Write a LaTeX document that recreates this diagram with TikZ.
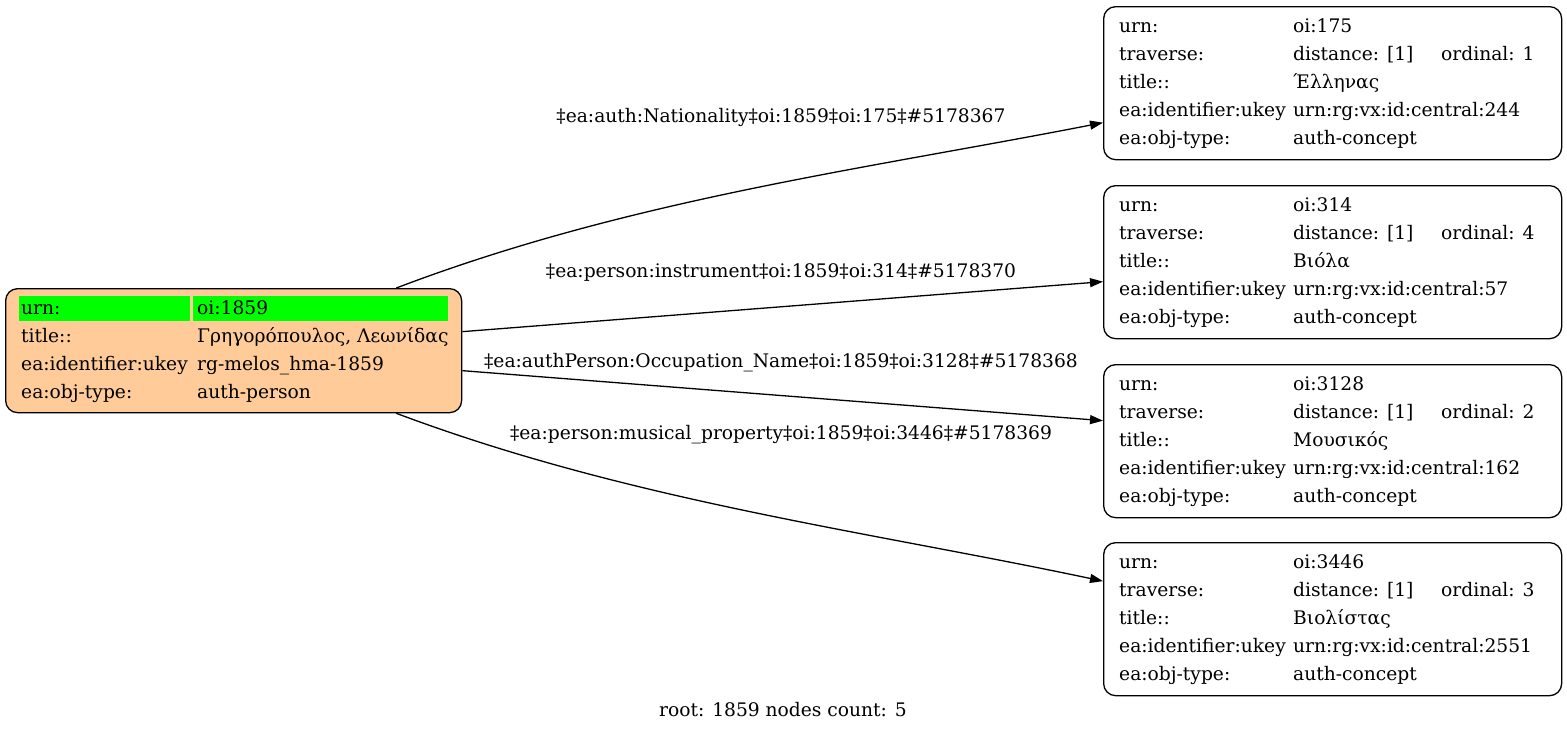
\documentclass[tikz,border=0pt]{standalone}
\usepackage{fontspec}
\setmainfont{DejaVu Serif}
\usetikzlibrary{arrows.meta,calc}
\definecolor{peach}{RGB}{255,204,153}
\definecolor{cellgreen}{RGB}{0,255,0}
\begin{document}
\begin{tikzpicture}[x=1pt,y=-1pt,
  box/.style={draw=black, line width=1.3pt, rounded corners=12pt, inner sep=0pt, anchor=north west, minimum width=458pt, minimum height=153pt},
  cell/.style={fill=cellgreen, inner sep=0pt, anchor=north west, minimum height=25pt},
  txt/.style={anchor=base west, inner sep=0pt, font=\fontsize{18.67}{22}\selectfont},
  lbl/.style={anchor=base, inner sep=0pt, font=\fontsize{18.67}{22}\selectfont},
  link/.style={line width=1.3pt, -{Triangle[length=13pt,width=9pt]}}]
\useasboundingbox (0,0) rectangle (1567,732);
% root node
\node[box, fill=peach, minimum width=456pt, minimum height=124pt] (L) at (5,288) {};
\node[cell, minimum width=171pt] (Lc1) at (19,296) {};
\node[cell, minimum width=255pt] (Lc2) at (193,296) {};
\node[txt] (L11) at (21,314) {urn:};
\node[txt] (L12) at (197,314) {oi:1859};
\node[txt] (L21) at (21,342) {title::};
\node[txt] (L22) at (197,342) {Γρηγορόπουλος, Λεωνίδας};
\node[txt] (L31) at (21,370) {ea:identifier:ukey};
\node[txt] (L32) at (197,370) {rg-melos\_hma-1859};
\node[txt] (L41) at (21,398) {ea:obj-type:};
\node[txt] (L42) at (197,398) {auth-person};
% right nodes
\foreach \n/\top/\urn/\ord/\ttl/\uk in {1/6/175/1/Έλληνας/244, 2/185/314/4/Βιόλα/57, 3/364/3128/2/Μουσικός/162, 4/542/3446/3/Βιολίστας/2551}{
  \node[box] (R\n) at (1103,\top) {};
  \node[txt] (R\n a1) at (1119,\top+26) {urn:};
  \node[txt] (R\n b1) at (1293,\top+26) {oi:\urn};
  \node[txt] (R\n a2) at (1119,\top+54) {traverse:};
  \node[txt] (R\n b2) at (1293,\top+54) {distance: [1]};
  \node[txt] (R\n c2) at (1441,\top+54) {ordinal: \ord};
  \node[txt] (R\n a3) at (1119,\top+82) {title::};
  \node[txt] (R\n b3) at (1293,\top+82) {\ttl};
  \node[txt] (R\n a4) at (1119,\top+110) {ea:identifier:ukey};
  \node[txt] (R\n b4) at (1293,\top+110) {urn:rg:vx:id:central:\uk};
  \node[txt] (R\n a5) at (1119,\top+138) {ea:obj-type:};
  \node[txt] (R\n b5) at (1293,\top+138) {auth-concept};
}
% edges
\coordinate (s1) at ([xshift=-66pt]L.north east);
\coordinate (s4) at ([xshift=-66pt]L.south east);
\coordinate (e1) at ([yshift=-39.5pt]R1.west);
\coordinate (e4) at ([yshift=38pt]R4.west);
\draw[link] (s1) .. controls (630,199) and (866,169) .. (e1);
\draw[link] ([yshift=19pt]L.east) -- ([yshift=-19.5pt]R2.west);
\draw[link] ([yshift=-20pt]L.east) -- ([yshift=20.5pt]R3.west);
\draw[link] (s4) .. controls (630,501) and (866,531) .. (e4);
% edge labels
\node[lbl] (E1) at (781,122) {‡ea:auth:Nationality‡oi:1859‡oi:175‡\#5178367};
\node[lbl] (E2) at (781,277) {‡ea:person:instrument‡oi:1859‡oi:314‡\#5178370};
\node[lbl] (E3) at (781,367) {‡ea:authPerson:Occupation\_Name‡oi:1859‡oi:3128‡\#5178368};
\node[lbl] (E4) at (781,439) {‡ea:person:musical\_property‡oi:1859‡oi:3446‡\#5178369};
\node[lbl] (cap) at (783,716) {root: 1859 nodes count: 5};
\end{tikzpicture}
\end{document}
